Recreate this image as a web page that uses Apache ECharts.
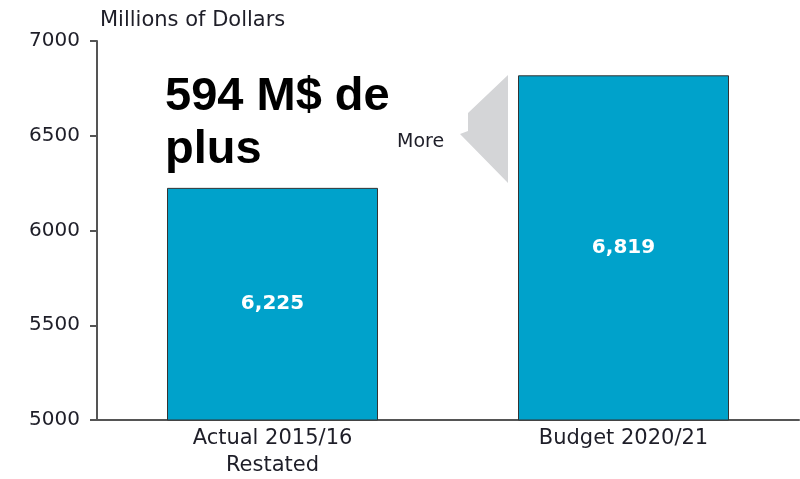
<!DOCTYPE html>
<html><head><meta charset="utf-8">
<script src="https://cdn.jsdelivr.net/npm/echarts@6/dist/echarts.min.js"></script>
<style>html,body{margin:0;padding:0;background:#fff}#c{width:800px;height:479px}</style>
</head><body><div id="c"></div>
<script>
const categories = ['Actual 2015/16\nRestated', 'Budget 2020/21'];
const values = [6225, 6819];
const valueLabels = ['6,225', '6,819'];
const yTicks = [5000, 5500, 6000, 6500, 7000];
const FONT = '"DejaVu Sans", sans-serif';

const chart = echarts.init(document.getElementById('c'));
chart.setOption({
  animation: false,
  grid: { left: 97, right: 1, top: 41, bottom: 56, containLabel: false },
  title: {
    text: '594 M$ de\nplus', left: 160, top: 66,
    textStyle: { fontFamily: 'Liberation Sans, Arial, sans-serif', fontWeight: 'bold', fontSize: 47, lineHeight: 53, color: '#000' }
  },
  xAxis: {
    type: 'category', data: categories,
    axisLine: { lineStyle: { color: '#555', width: 2 } },
    axisTick: { show: false },
    axisLabel: { fontFamily: FONT, fontSize: 21, color: '#1e1e28', lineHeight: 27, margin: 5 }
  },
  yAxis: {
    type: 'value', min: yTicks[0], max: yTicks[yTicks.length - 1], interval: 500,
    name: 'Millions of Dollars', nameLocation: 'end', nameGap: 10,
    nameTextStyle: { fontFamily: FONT, fontSize: 21, color: '#1e1e28', align: 'left', padding: [0, 0, 0, 3] },
    axisLine: { show: true, lineStyle: { color: '#555', width: 2 } },
    axisTick: { show: true, inside: false, length: 7, lineStyle: { color: '#555', width: 2 } },
    axisLabel: { fontFamily: FONT, fontSize: 20, color: '#1e1e28', margin: 17, formatter: v => String(v) },
    splitLine: { show: false }
  },
  series: [{
    type: 'bar', data: values, barWidth: 211,
    itemStyle: { color: '#00a2cb', borderColor: '#333', borderWidth: 1 },
    label: {
      show: true, position: 'inside', color: '#fff', fontFamily: FONT, fontWeight: 'bold', fontSize: 20,
      formatter: p => valueLabels[p.dataIndex]
    }
  }],
  graphic: [
    { type: 'polygon', shape: { points: [[508, 75], [468, 113], [468, 131], [460, 134], [508, 183]] }, style: { fill: '#d4d5d7' } },
    { type: 'text', left: 397, top: 133, style: { text: 'More', fontFamily: FONT, fontSize: 19, fill: '#1e1e28' } }
  ]
});
</script></body></html>
